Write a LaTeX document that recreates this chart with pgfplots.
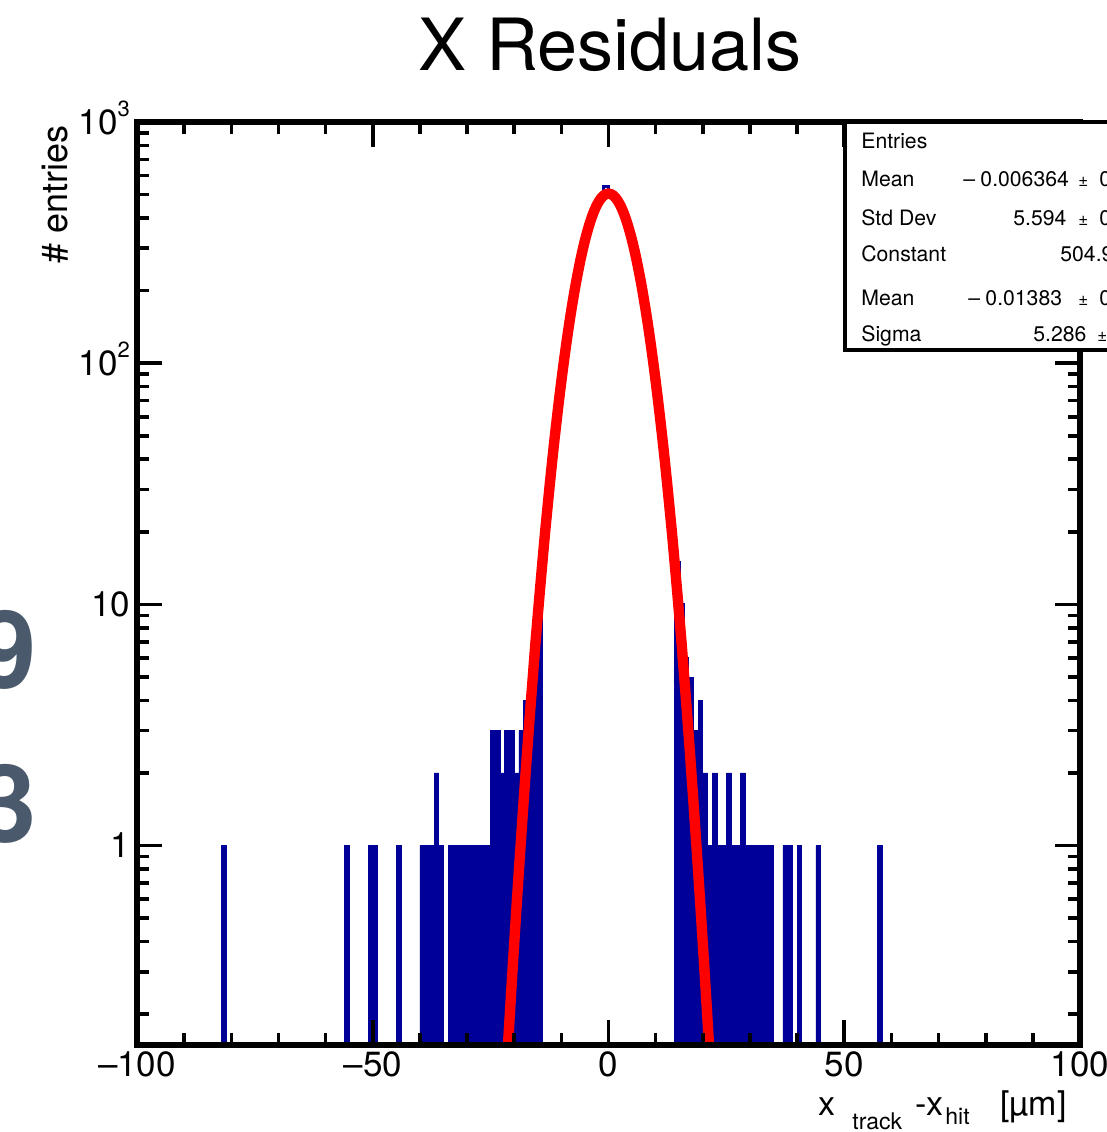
\documentclass[border=0pt]{standalone}
\usepackage{fontspec}
\setmainfont{TeX Gyre Heros}
\usepackage{pgfplots}
\pgfplotsset{compat=1.18}
\definecolor{rootblue}{RGB}{0,0,153}
\definecolor{rootred}{RGB}{255,0,0}
\definecolor{slate}{RGB}{74,89,107}

\newcommand{\expo}[1]{\smash{\raisebox{9pt}{\fontsize{11}{11}\selectfont #1}}}

\begin{document}
\begin{tikzpicture}
\useasboundingbox (0,0) rectangle (553.5pt,-566pt);
\clip (0,0) rectangle (553.5pt,-566pt);

\begin{axis}[
    at={(68.5pt,-522.5pt)}, anchor=south west,
    scale only axis, width=471.5pt, height=461.5pt,
    xmin=-100, xmax=100,
    ymode=log, ymin=0.149, ymax=1000,
    log origin=infty,
    axis on top,
    axis line style={line width=2.6pt},
    tick style={black, line width=1.8pt},
    major tick length=12.5pt, minor tick length=6pt,
    tick pos=both,
    xtick={-100,-50,0,50,100},
    xticklabels={–100,–50,0,50,100},
    minor x tick num=4,
    ytick={1,10,100,1000},
    yticklabels={1,10,10\expo{2},10\expo{3}},
    minor ytick={0.2,0.3,0.4,0.5,0.6,0.7,0.8,0.9,2,3,4,5,6,7,8,9,20,30,40,50,60,70,80,90,200,300,400,500,600,700,800,900},
    tick label style={font=\fontsize{17.5}{20}\selectfont},
]
% low-count bins, drawn as filled bars
\addplot[ybar, bar width=1, bar shift=0pt, fill=rootblue, draw=rootblue, line width=0.4pt] coordinates {
    (-81.5,1) (-55.5,1) (-50.5,1) (-49.5,1) (-44.5,1)
    (-39.5,1) (-38.5,1) (-37.5,1) (-36.5,2) (-35.5,1)
    (-33.5,1) (-32.5,1) (-31.5,1) (-30.5,1) (-29.5,1) (-28.5,1) (-27.5,1) (-26.5,1) (-25.5,1)
    (-24.5,3) (-23.5,3) (-22.5,2) (-21.5,3) (-20.5,3) (-19.5,2) (-18.5,3) (-17.5,4) (-16.5,5)
    (-15.5,8) (-14.5,11)
    (14.5,15) (15.5,10)
    (16.5,6) (17.5,5) (18.5,3) (19.5,4) (20.5,2) (21.5,1) (22.5,2) (23.5,1) (24.5,1)
    (25.5,2) (26.5,1) (27.5,1) (28.5,2) (29.5,1) (30.5,1) (31.5,1) (32.5,1) (33.5,1) (34.5,1)
    (37.5,1) (38.5,1) (40.5,1) (44.5,1) (57.5,1)
};
% core of the histogram, outline only
\addplot[const plot mark left, draw=rootblue, line width=1.3pt] coordinates {
    (-17,5) (-16,8) (-15,11) (-14,21) (-13,33) (-12,45) (-11,70) (-10,96) (-9,142) (-8,181)
    (-7,243) (-6,290) (-5,356) (-4,398) (-3,462) (-2,488) (-1,540) (0,508) (1,478) (2,446)
    (3,410) (4,347) (5,300) (6,231) (7,190) (8,134) (9,104) (10,75) (11,52) (12,36)
    (13,21) (14,15) (15,10) (16,6) (17,6)
};
% gaussian fit
\addplot[rootred, line width=5.2pt, smooth] coordinates {
    (-22,0.0875) (-21.5,0.129) (-21,0.189) (-20.5,0.274) (-20,0.393) (-19.5,0.560) (-19,0.790)
    (-18.5,1.10) (-18,1.53) (-17.5,2.10) (-17,2.87) (-16.5,3.87) (-16,5.16) (-15.5,6.9) (-15,9.0)
    (-14.5,11.7) (-14,15.1) (-13.5,19.4) (-13,24.5) (-12.5,30.8) (-12,38.4) (-11.5,47.4) (-11,57.9)
    (-10.5,70.2) (-10,84.3) (-9.5,100.4) (-9,118.5) (-8.5,138.6) (-8,160.6) (-7.5,184.5) (-7,210.1)
    (-6.5,237.0) (-6,265.1) (-5.5,293.9) (-5,322.8) (-4.5,351.4) (-4,379.2) (-3.5,405.5) (-3,429.8)
    (-2.5,451.5) (-2,470.0) (-1.5,485.0) (-1,496.0) (-0.5,502.6) (0,504.9)
    (0.5,502.6) (1,496.0) (1.5,485.0) (2,470.0) (2.5,451.5) (3,429.8) (3.5,405.5) (4,379.2)
    (4.5,351.4) (5,322.8) (5.5,293.9) (6,265.1) (6.5,237.0) (7,210.1) (7.5,184.5) (8,160.6)
    (8.5,138.6) (9,118.5) (9.5,100.4) (10,84.3) (10.5,70.2) (11,57.9) (11.5,47.4) (12,38.4)
    (12.5,30.8) (13,24.5) (13.5,19.4) (14,15.1) (14.5,11.7) (15,9.0) (15.5,6.9) (16,5.16)
    (16.5,3.87) (17,2.87) (17.5,2.10) (18,1.53) (18.5,1.10) (19,0.790) (19.5,0.560) (20,0.393)
    (20.5,0.274) (21,0.189) (21.5,0.129) (22,0.0875)
};
\end{axis}

% everything below is placed in pixel units of the reference, y downwards
\begin{scope}[x=0.5pt, y=-0.5pt]
  \node[anchor=base, inner sep=0pt, font=\fontsize{36}{40}\selectfont] at (610,70) {X Residuals};
  \node[rotate=90, anchor=base east, inner sep=0pt, font=\fontsize{18}{20}\selectfont] at (68,125) {\# entries};

  \begin{scope}[every node/.style={anchor=base west, inner sep=0pt}]
    \node[font=\fontsize{17}{20}\selectfont] at (818,1115) {x};
    \node[font=\fontsize{11.5}{13}\selectfont] at (852,1129.5) {track};
    \node[font=\fontsize{17}{20}\selectfont] at (915,1115) {-x};
    \node[font=\fontsize{11.5}{13}\selectfont] at (945,1124.5) {hit};
    \node[font=\fontsize{17}{20}\selectfont] at (1000,1115) {[µm]};
  \end{scope}

  % stat box
  \draw[line width=2pt, fill=white] (845,121.5) rectangle (1130,350);
  \begin{scope}[every node/.style={anchor=base west, inner sep=0pt, font=\fontsize{10.6}{12}\selectfont}]
    \node at (861,148.3) {Entries};
    \node at (861,186.7) {Mean};
    \node at (861,225) {Std Dev};
    \node at (861,261.7) {Constant};
    \node at (861,305) {Mean};
    \node at (861,341) {Sigma};
    \node at (963,186.7) {–\hspace{0.25em}0.006364};
    \node at (1013,225) {5.594};
    \node at (1060,261.7) {504.9};
    \node at (968,305) {–\hspace{0.25em}0.01383};
    \node at (1033,341) {5.286};
    \node at (1099,186.7) {0.07};
    \node at (1099,225) {0.05};
    \node at (1099,305) {0.07};
    \node[font=\fontsize{8.5}{9}\selectfont] at (1078,186.7) {±};
    \node[font=\fontsize{8.5}{9}\selectfont] at (1078,225) {±};
    \node[font=\fontsize{8.5}{9}\selectfont] at (1078,305) {±};
    \node[font=\fontsize{8.5}{9}\selectfont] at (1097,341) {±};
  \end{scope}

  % cropped overlay digits at the left edge
  \node[anchor=base east, inner sep=0pt, text=slate, font=\fontsize{54}{60}\selectfont\bfseries] at (37,688) {9};
  \node[anchor=base east, inner sep=0pt, text=slate, font=\fontsize{54}{60}\selectfont\bfseries] at (37,842) {3};
\end{scope}
\end{tikzpicture}
\end{document}
